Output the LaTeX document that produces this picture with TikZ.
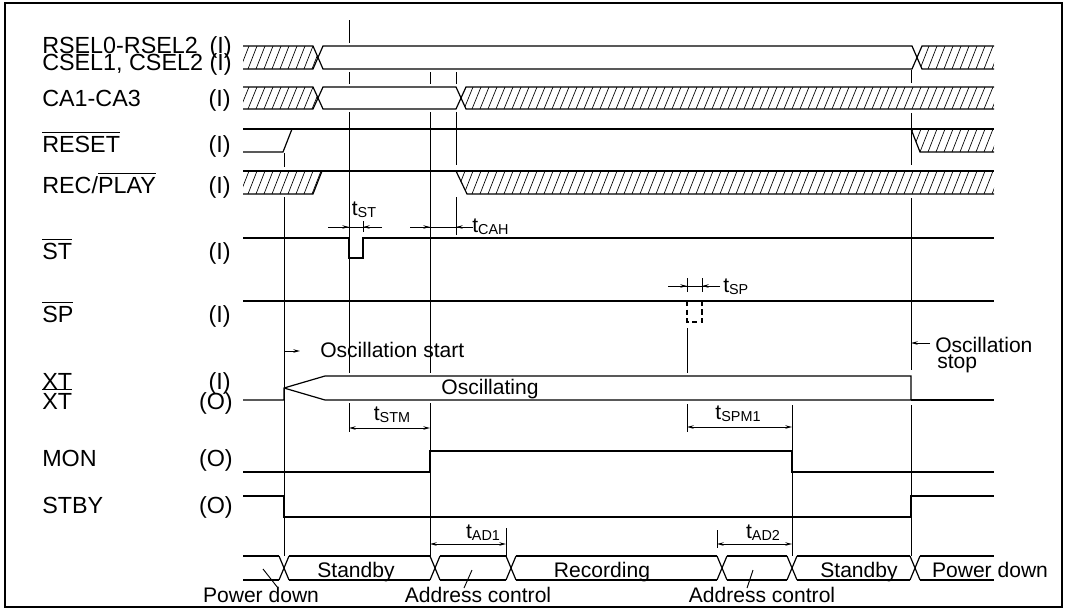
\documentclass[tikz,border=0pt]{standalone}
\usepackage{fontspec}
\setmainfont{Liberation Sans}
\usetikzlibrary{arrows.meta}
\newcommand{\lblfont}{\fontsize{17.5}{18}\selectfont}
\newcommand{\txtfont}{\fontsize{15.8}{16}\selectfont}
\newcommand{\negsig}[1]{\vbox{\hrule height 0.8pt\kern 2.2pt\hbox{#1}}}
\newcommand{\tdim}[1]{t\raisebox{-1.5pt}{\fontsize{10.8}{11}\selectfont #1}}
% hatched (don't care) region: clip path, top y, bottom y
\newcommand{\hatch}[3]{%
  \begin{scope}
    \clip #1;
    \foreach \h in {200,208,...,1010}
      \draw[line width=0.5pt] (\h,#3) -- (\h+9,#2);
  \end{scope}}
\begin{document}
\begin{tikzpicture}[x=0.75pt, y=-0.75pt, >={Stealth[length=5pt,width=2.6pt]},
  sig/.style={line width=0.9pt},
  refl/.style={line width=0.7pt},
  lbl/.style={font=\lblfont, inner sep=0pt, anchor=base west},
  dir/.style={font=\lblfont, inner sep=0pt, anchor=base east},
  txt/.style={font=\txtfont, inner sep=0pt, anchor=base}]
\useasboundingbox (0,0) rectangle (1067,611);
\draw[line width=0.8pt] (5,3) rectangle (1062,607);

% signal names
\node[lbl] (rsel) at (42,53) {RSEL0-RSEL2};
\node[dir] (rseld) at (232,53) {(I)};
\node[lbl] (csel) at (42,70) {CSEL1, CSEL2};
\node[dir] (cseld) at (232,70) {(I)};
\node[lbl] (ca) at (42,106) {CA1-CA3};
\node[dir] (cad) at (231,106) {(I)};
\node[lbl] (reset) at (42,152) {\negsig{RESET}};
\node[dir] (resetd) at (231,152) {(I)};
\node[lbl] (rec) at (42,193) {REC/\negsig{PLAY}};
\node[dir] (recd) at (231,193) {(I)};
\node[lbl] (st) at (42,259) {\negsig{ST}};
\node[dir] (std) at (231,259) {(I)};
\node[lbl] (sp) at (42,322) {\negsig{SP}};
\node[dir] (spd) at (231,322) {(I)};
\node[lbl] (xt) at (42,389) {XT};
\node[dir] (xtd) at (231,389) {(I)};
\node[lbl] (xtn) at (42,409) {\negsig{XT}};
\node[dir] (xtnd) at (233,409) {(O)};
\node[lbl] (mon) at (42,466) {MON};
\node[dir] (mond) at (233,466) {(O)};
\node[lbl] (stby) at (42,513) {STBY};
\node[dir] (stbyd) at (233,513) {(O)};

% RSEL / CSEL
\hatch{(243,46) -- (313,46) -- (318,57.5) -- (313,69) -- (243,69) -- cycle}{46}{69}
\hatch{(994,46) -- (922,46) -- (917,57.5) -- (922,69) -- (994,69) -- cycle}{46}{69}
\draw[sig] (243,46) -- (313,46) -- (323,69) -- (912,69) -- (922,46) -- (994,46);
\draw[sig] (243,69) -- (313,69) -- (323,46) -- (912,46) -- (922,69) -- (994,69);
% CA1-CA3
\hatch{(243,87) -- (313,87) -- (318,98) -- (313,109) -- (243,109) -- cycle}{87}{109}
\hatch{(994,87) -- (466,87) -- (461,98) -- (466,109) -- (994,109) -- cycle}{87}{109}
\draw[sig] (243,87) -- (313,87) -- (323,109) -- (456,109) -- (466,87) -- (994,87);
\draw[sig] (243,109) -- (313,109) -- (323,87) -- (456,87) -- (466,109) -- (994,109);
% RESET
\hatch{(911,129) -- (994,129) -- (994,152) -- (920,152) -- cycle}{129}{152}
\draw[sig] (243,152) -- (283,152) -- (292,129);
\draw[sig] (243,129) -- (994,129);
\draw[sig] (911,129) -- (920,152) -- (994,152);
% REC/PLAY
\hatch{(243,171) -- (322,171) -- (313,194) -- (243,194) -- cycle}{171}{194}
\hatch{(456,171) -- (994,171) -- (994,194) -- (467,194) -- cycle}{171}{194}
\draw[sig] (243,171) -- (994,171);
\draw[sig] (243,194) -- (313,194) -- (322,171);
\draw[sig] (456,171) -- (467,194) -- (994,194);
% ST and SP
\draw[sig] (243,238) -- (349,238) -- (349,258) -- (363,258) -- (363,238) -- (994,238);
\draw[sig] (243,301) -- (994,301);
\draw[sig, dashed, dash pattern=on 4pt off 2.5pt] (687,301) -- (687,322) -- (702,322) -- (702,301);
% XT
\draw[sig] (243,400) -- (284,400) -- (284,388) -- (325,376) -- (911,376) -- (911,400) -- (325,400) -- (284,388);
\draw[sig] (911,400) -- (994,400);
\node[txt] (osc) at (490,394) {Oscillating};
% MON and STBY
\draw[sig] (243,472) -- (430,472) -- (430,451) -- (792,451) -- (792,472) -- (994,472);
\draw[sig] (243,496) -- (284,496) -- (284,517) -- (911,517) -- (911,496) -- (994,496);
% state bus
\foreach \c in {284,435,511,722,792,915}
  \draw[sig] (\c-5,556) -- (\c+5,580) (\c-5,580) -- (\c+5,556);
\foreach \a/\b in {243/279, 289/430, 440/506, 516/717, 727/787, 797/910, 920/994}
  \draw[sig] (\a,556) -- (\b,556) (\a,580) -- (\b,580);
\node[txt] (sb1) at (356,577) {Standby};
\node[txt] (recg) at (602,577) {Recording};
\node[txt] (sb2) at (859,577) {Standby};
\node[txt] (pd2) at (990,577) {Power down};
\node[txt] (pd1) at (261,602) {Power down};
\node[txt] (ac1) at (478,602) {Address control};
\node[txt] (ac2) at (762,602) {Address control};
\draw[refl] (263,569) -- (278,588);
\draw[refl] (472,570) -- (464,588);
\draw[refl] (753,570) -- (747,588);

% timing reference lines
\draw[refl] (349,20) -- (349,43) (349,72) -- (349,84) (349,112) -- (349,373) (349,403) -- (349,432);
\draw[refl] (430,72) -- (430,84) (430,112) -- (430,373) (430,403) -- (430,556);
\draw[refl] (456,72) -- (456,84) (456,112) -- (456,165) (456,197) -- (456,235);
\draw[refl] (284,153) -- (284,167) (284,197) -- (284,556);
\draw[refl] (687,278) -- (687,292) (687,328) -- (687,373) (687,404) -- (687,432);
\draw[refl] (702,278) -- (702,292);
\draw[refl] (363,221) -- (363,232);
\draw[refl] (792,405) -- (792,556);
\draw[refl] (911,70) -- (911,83) (911,113) -- (911,165) (911,198) -- (911,370) (911,405) -- (911,556);
\draw[refl] (506,528) -- (506,556);
\draw[refl] (717,530) -- (717,548);

% timing marks
\draw[refl] (328,227) -- (382,227);
\draw[refl, ->] (328,227) -- (349,227);
\draw[refl, ->] (382,227) -- (363,227);
\node[txt] (tst) at (364,215) {\tdim{ST}};
\draw[refl] (410,227) -- (473,227);
\draw[refl, ->] (410,227) -- (430,227);
\draw[refl, ->] (473,227) -- (456,227);
\node[txt, anchor=base west] (tcah) at (472,232) {\tdim{CAH}};
\draw[refl] (668,286) -- (720,286);
\draw[refl, ->] (668,286) -- (687,286);
\draw[refl, ->] (720,286) -- (702,286);
\node[txt, anchor=base west] (tsp) at (723,292) {\tdim{SP}};
\draw[refl, ->] (284,351) -- (300,351);
\node[txt, anchor=base west] (ostart) at (320,357) {Oscillation start};
\draw[refl, ->] (930,343) -- (911,343);
\node[txt, anchor=base west] (ostop) at (935,352) {Oscillation};
\node[txt, anchor=base west] (ostop2) at (937,368) {stop};
\draw[refl, <->] (349,428) -- (430,428);
\node[txt] (tstm) at (392,420) {\tdim{STM}};
\draw[refl, <->] (687,427) -- (792,427);
\node[txt] (tspm) at (738,419) {\tdim{SPM1}};
\draw[refl, <->] (430,544) -- (506,544);
\node[txt] (tad1) at (483,538) {\tdim{AD1}};
\draw[refl, <->] (717,544) -- (792,544);
\node[txt] (tad2) at (763,538) {\tdim{AD2}};
\end{tikzpicture}
\end{document}
